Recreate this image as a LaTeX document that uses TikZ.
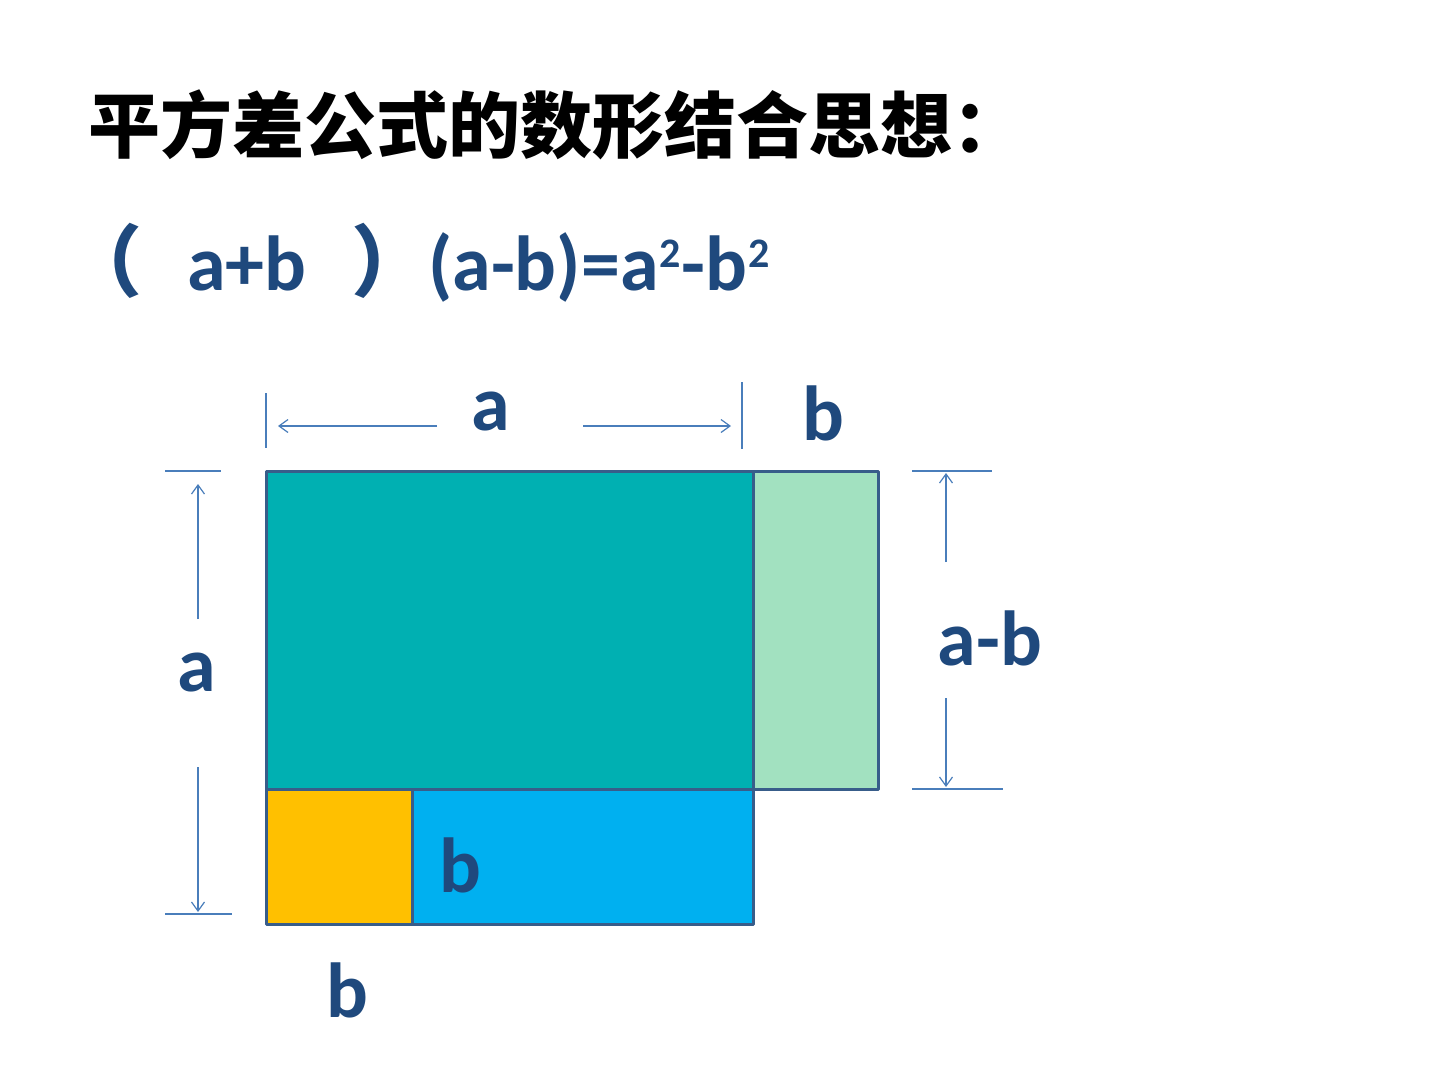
\documentclass[tikz,border=0pt]{standalone}
\usepackage{fontspec}
\setmainfont{Carlito}[BoldFont={Carlito Bold}]
\newfontfamily\cjk{Noto Sans CJK SC}[BoldFont={Noto Sans CJK SC Black}]
\usetikzlibrary{arrows.meta,positioning}
\definecolor{txtblue}{RGB}{31,73,125}
\definecolor{edgeblue}{RGB}{56,93,138}
\definecolor{dimblue}{RGB}{74,126,187}
\definecolor{sqteal}{RGB}{0,176,178}
\definecolor{sqgreen}{RGB}{162,225,192}
\definecolor{sqyellow}{RGB}{255,192,0}
\definecolor{sqblue}{RGB}{0,176,240}
\newcommand{\powtwo}{\kern1pt\raisebox{23pt}{\fontsize{42}{44}\selectfont\bfseries 2}\kern1pt}
\begin{document}
\begin{tikzpicture}[x=1pt,y=-1pt]
\tikzstyle{lbl} = [font=\fontsize{78}{80}\selectfont\bfseries, text=txtblue, inner sep=0pt];
\tikzstyle{dim} = [draw=dimblue, line width=1.2pt];
\tikzstyle{dimarrow} = [dim, -{Straight Barb[length=9pt,width=13pt]}];
\tikzstyle{box} = [draw=edgeblue, line width=3pt, line join=round];
\useasboundingbox (0,0) rectangle (1440,1080);
% title and formula
\node[anchor=west, inner sep=0pt, font=\fontsize{72}{74}\selectfont\cjk\bfseries] (T) at (88,125) {平方差公式的数形结合思想：};
\node[lbl, anchor=base, font=\fontsize{78}{80}\selectfont\cjk\bfseries] (LP) at (103,290) {（};
\node[lbl, anchor=base west] (S) at (187,290) {a+b};
\node[lbl, anchor=base, font=\fontsize{78}{80}\selectfont\cjk\bfseries] (RP) at (390,290) {）};
\node[lbl, anchor=base west] (F) at (428,290) {(a-b)=a\powtwo-b\powtwo};
% corners of the pieces
\coordinate (P1) at (266,471);
\coordinate (P2) at (753,471);
\coordinate (P3) at (878,471);
\coordinate (P4) at (266,789);
\coordinate (P5) at (412,789);
\coordinate (P6) at (753,789);
\coordinate (P7) at (878,789);
\coordinate (P8) at (266,924);
\coordinate (P9) at (412,924);
\coordinate (P10) at (753,924);
\fill[sqteal] (P1) rectangle (P6);
\fill[sqgreen] (P2) rectangle (P7);
\fill[sqyellow] (P4) rectangle (P9);
\fill[sqblue] (P5) rectangle (P10);
\draw[box] (P1) -- (P3) -- (P7) -- (P6) -- (P10) -- (P8) -- cycle;
\draw[box] (P2) -- (P6) -- (P4) (P5) -- (P9);
% labels
\node[lbl] (A1) at (491,412) {a};
\node[lbl] (B1) at (823,413) {b};
\node[lbl] (A2) at (197,673) {a};
\node[lbl] (AB) at (990,638) {a-b};
\node[lbl] (B2) at (460,865) {b};
\node[lbl] (B3) at (347,990) {b};
% top dimension
\coordinate (U1) at (266,393); \coordinate (U2) at (266,448);
\coordinate (U3) at (742,382); \coordinate (U4) at (742,449);
\coordinate (U5) at (437,426); \coordinate (U6) at (278,426);
\coordinate (U7) at (583,426); \coordinate (U8) at (731,426);
\draw[dim] (U1) -- (U2) (U3) -- (U4);
\draw[dimarrow] (U5) -- (U6);
\draw[dimarrow] (U7) -- (U8);
% left dimension
\coordinate (L1) at (165,471); \coordinate (L2) at (221,471);
\coordinate (L3) at (165,914); \coordinate (L4) at (232,914);
\coordinate (L5) at (198,619); \coordinate (L6) at (198,484);
\coordinate (L7) at (198,767); \coordinate (L8) at (198,912);
\draw[dim] (L1) -- (L2) (L3) -- (L4);
\draw[dimarrow] (L5) -- (L6);
\draw[dimarrow] (L7) -- (L8);
% right dimension
\coordinate (R1) at (912,471); \coordinate (R2) at (992,471);
\coordinate (R3) at (912,789); \coordinate (R4) at (1003,789);
\coordinate (R5) at (946,562); \coordinate (R6) at (946,473);
\coordinate (R7) at (946,698); \coordinate (R8) at (946,787);
\draw[dim] (R1) -- (R2) (R3) -- (R4);
\draw[dimarrow] (R5) -- (R6);
\draw[dimarrow] (R7) -- (R8);
\end{tikzpicture}
\end{document}
